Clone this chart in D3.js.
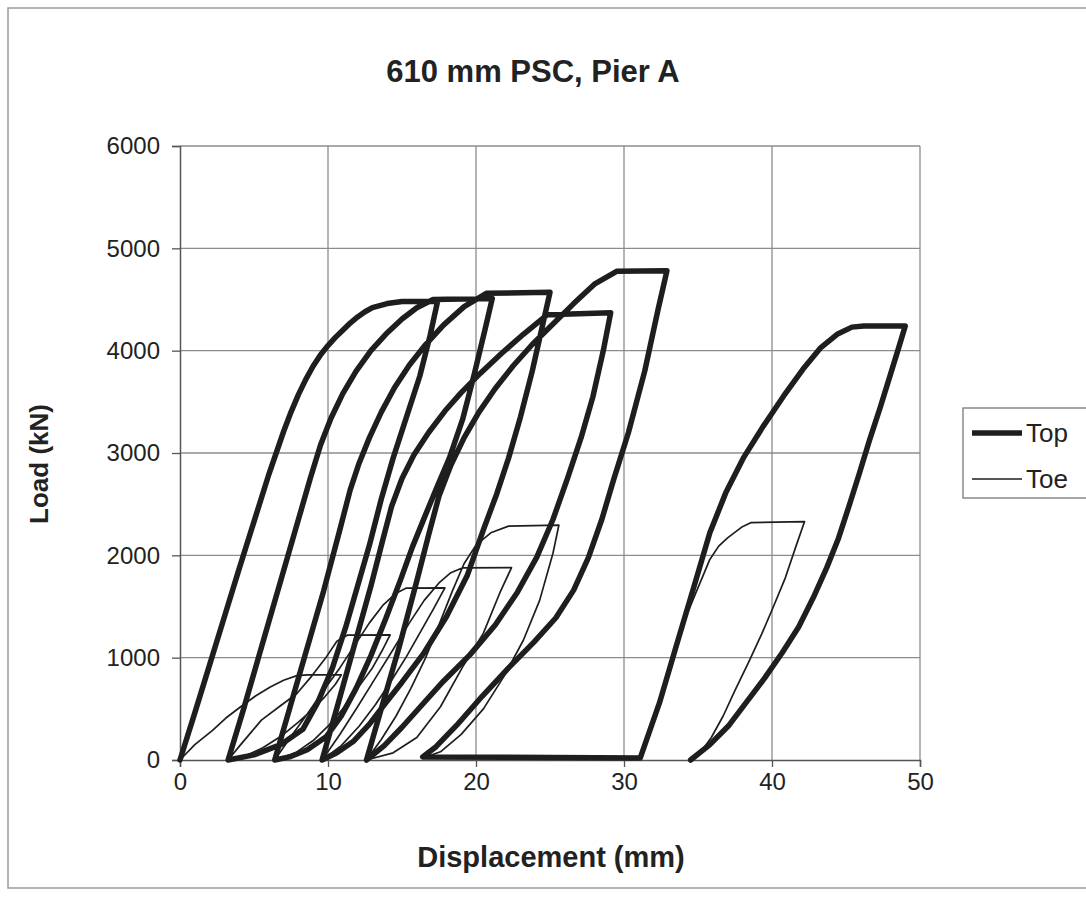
<!DOCTYPE html>
<html>
<head>
<meta charset="utf-8">
<script src="https://cdn.jsdelivr.net/npm/d3@7"></script>
<style>
  html, body { margin: 0; padding: 0; background: #fff; }
  svg { display: block; font-family: "Liberation Sans", Arial, sans-serif; }
</style>
</head>
<body>
<div id="chart"></div>
<script>
// values, [displacement mm, load kN]
// pile top: six load / hold / unload cycles
const top1 = [[0,0],[1,460],[2,930],[3,1400],[4,1870],[5,2330],[6,2790],[7,3210],[7.5,3400],[8,3570],[8.5,3720],[9,3850],[9.5,3960],[10,4050],[10.5,4130],[11,4200],[11.5,4270],[12,4330],[12.5,4380],[13,4420],[14,4460],[15,4480],[17.4,4480],
  [16.9,4150],[16.2,3750],[15.3,3350],[14.4,2950],[13.6,2550],[12.8,2100],[12,1700],[11.2,1300],[10.3,900],[9.3,560],[8.3,300],[6.8,150],[5,50],[3.25,0]]
const top2 = [[3.25,0],[4.3,500],[5.4,1050],[6.5,1600],[7.6,2150],[8.8,2750],[9.5,3080],[10.2,3340],[11,3580],[11.9,3800],[12.9,4000],[13.9,4160],[15,4310],[16,4420],[17.1,4500],[21.1,4510],
  [20.6,4200],[19.9,3780],[19.1,3330],[18.2,2950],[17.4,2680],[16.6,2400],[15.7,2080],[14.9,1760],[13.9,1380],[12.9,1020],[11.9,700],[10.9,430],[9.9,230],[8.6,100],[7.4,30],[6.4,0]]
const top3 = [[6.4,0],[7.5,550],[8.6,1100],[9.7,1650],[10.8,2250],[11.5,2640],[12.1,2900],[12.8,3150],[13.6,3400],[14.5,3640],[15.5,3860],[16.6,4060],[17.8,4250],[19.2,4430],[20.7,4560],[25,4570],
  [24.5,4250],[23.8,3800],[23,3350],[22.2,2950],[21.4,2600],[20.5,2250],[19.4,1800],[18,1400],[16.5,1050],[15,760],[13.8,540],[12.8,350],[11.7,180],[10.6,70],[9.6,0]]
const top4 = [[9.6,0],[10.7,560],[11.8,1130],[12.9,1700],[13.7,2150],[14.3,2480],[15,2750],[15.8,2980],[16.8,3200],[17.9,3410],[19,3590],[20.3,3780],[21.7,3970],[23.2,4160],[24.8,4350],[29.1,4370],
  [28.6,4000],[27.9,3550],[27.1,3150],[26.2,2760],[25.2,2350],[24.1,1980],[22.8,1640],[21.3,1320],[19.6,1030],[17.8,770],[16.3,530],[15,320],[13.8,140],[12.6,0]]
const top5 = [[12.6,0],[13.6,500],[14.8,1100],[16,1750],[16.8,2200],[17.5,2580],[18.3,2880],[19.2,3150],[20.2,3400],[21.3,3630],[22.5,3850],[23.8,4060],[25.2,4260],[26.6,4460],[28,4650],[29.5,4775],[32.9,4780],
  [32.3,4400],[31.4,3800],[30.3,3200],[29.3,2740],[28.5,2350],[27.6,1980],[26.6,1660],[25.4,1390],[23.9,1150],[22.2,900],[20.4,620],[18.7,340],[17.3,130],[16.4,30],[31.1,20]]
const top6 = [[31.1,20],[32.4,560],[33.5,1100],[34.7,1680],[35.8,2220],[36.9,2620],[38.1,2960],[39.4,3260],[40.8,3560],[42.1,3820],[43.3,4030],[44.4,4160],[45.4,4230],[46.2,4240],[49,4240],
  [48.5,4000],[47.9,3720],[47.3,3440],[46.6,3130],[45.9,2800],[45.2,2480],[44.5,2170],[43.7,1880],[42.8,1590],[41.8,1300],[40.7,1050],[39.5,800],[38.3,570],[37.1,340],[35.8,150],[34.5,0]]

// pile toe
const toe1 = [[0,0],[1,150],[2.2,290],[3.1,410],[4.1,520],[5.1,625],[6.1,714],[7,780],[7.9,825],[8.6,832],[10.9,832],
  [10.5,740],[9.8,620],[9,500],[8,370],[6.9,240],[5.6,120],[4.4,40],[3.25,0]]
const toe2 = [[3.25,0],[4.1,150],[4.8,270],[5.5,390],[6.7,520],[7.9,650],[8.9,820],[9.9,1010],[10.6,1160],[11.3,1220],[14.2,1222],
  [13.7,1080],[13,900],[12,700],[11,500],[10,330],[9,190],[7.8,70],[6.4,0]]
const toe3 = [[6.4,0],[7.5,230],[8.6,450],[9.7,680],[10.8,900],[11.8,1120],[12.8,1340],[13.7,1510],[14.6,1630],[15.3,1680],[17.9,1682],
  [17.1,1470],[16.2,1240],[15.3,1010],[14.3,780],[13.2,540],[12.1,330],[10.9,140],[9.6,0]]
const toe4 = [[9.6,0],[10.8,250],[12,520],[13.2,800],[14.4,1080],[15.5,1340],[16.5,1560],[17.5,1730],[18.3,1830],[19.1,1878],[22.4,1880],
  [21.6,1630],[20.5,1240],[19.1,910],[17.6,520],[16,220],[14.4,70],[12.6,0]]
const toe5 = [[12.6,0],[13.6,200],[14.6,430],[15.6,700],[16.6,1000],[17.5,1320],[18.4,1650],[19.2,1920],[20,2100],[21,2220],[22.2,2285],[25.6,2295],
  [25.2,2020],[24.3,1560],[23.2,1170],[21.9,820],[20.5,500],[19,250],[17.6,80],[16.4,20],[31.1,20]]
const toe6 = [[31.1,20],[32.4,560],[33.2,1000],[33.9,1300],[34.7,1580],[35.8,1960],[36.4,2090],[37,2170],[38,2280],[38.6,2320],[42.2,2330],
  [41.6,2080],[40.9,1780],[40.1,1500],[39.3,1230],[38.4,950],[37.5,680],[36.7,430],[35.9,220],[35.2,80],[34.5,0]]

const xTicks = [0, 10, 20, 30, 40, 50]
const yTicks = [0, 1000, 2000, 3000, 4000, 5000, 6000]
const seriesNames = ["Top", "Toe"]

class LoadChart {
  constructor(_parentElement) {
    this.parentElement = _parentElement
    this.initVis()
  }

  initVis() {
    const vis = this

    vis.WIDTH = 1086
    vis.HEIGHT = 899
    vis.PLOT = { LEFT: 180, RIGHT: 920, TOP: 146, BOTTOM: 760 }

    vis.svg = d3.select(vis.parentElement)
      .append("svg")
      .attr("width", vis.WIDTH)
      .attr("height", vis.HEIGHT)

    // outer chart frame
    vis.svg.append("rect")
      .attr("x", 8).attr("y", 8)
      .attr("width", 1100).attr("height", 880)
      .attr("fill", "none")
      .attr("stroke", "#9a9a9a")
      .attr("stroke-width", 1.5)

    vis.x = d3.scaleLinear().domain([0, 50]).range([vis.PLOT.LEFT, vis.PLOT.RIGHT])
    vis.y = d3.scaleLinear().domain([0, 6000]).range([vis.PLOT.BOTTOM, vis.PLOT.TOP])

    // gridlines
    vis.svg.append("g").attr("class", "grid")
      .selectAll("line")
      .data(yTicks.slice(1))
      .join("line")
      .attr("x1", vis.PLOT.LEFT).attr("x2", vis.PLOT.RIGHT)
      .attr("y1", d => vis.y(d)).attr("y2", d => vis.y(d))
      .attr("stroke", "#8c8c8c").attr("stroke-width", 1.3)

    vis.svg.append("g").attr("class", "grid")
      .selectAll("line")
      .data(xTicks.slice(1))
      .join("line")
      .attr("x1", d => vis.x(d)).attr("x2", d => vis.x(d))
      .attr("y1", vis.PLOT.TOP).attr("y2", vis.PLOT.BOTTOM)
      .attr("stroke", "#8c8c8c").attr("stroke-width", 1.3)

    // axes
    vis.xAxisCall = d3.axisBottom(vis.x).tickValues(xTicks).tickFormat(d3.format("d")).tickSize(7).tickPadding(6)
    vis.yAxisCall = d3.axisLeft(vis.y).tickValues(yTicks).tickFormat(d3.format("d")).tickSize(8).tickPadding(12)

    vis.xAxis = vis.svg.append("g")
      .attr("class", "x axis")
      .attr("transform", `translate(0, ${vis.PLOT.BOTTOM})`)
      .call(vis.xAxisCall)
    vis.yAxis = vis.svg.append("g")
      .attr("class", "y axis")
      .attr("transform", `translate(${vis.PLOT.LEFT}, 0)`)
      .call(vis.yAxisCall)

    vis.svg.selectAll(".axis path").attr("stroke", "#555").attr("stroke-width", 1.5)
    vis.svg.selectAll(".axis line").attr("stroke", "#555").attr("stroke-width", 1.3)
    vis.svg.selectAll(".axis text")
      .attr("font-size", "24px")
      .attr("fill", "#222")
      .attr("font-family", "Liberation Sans, Arial, sans-serif")

    // titles
    vis.svg.append("text")
      .attr("class", "title")
      .attr("x", 533).attr("y", 82)
      .attr("text-anchor", "middle")
      .attr("font-size", "31px").attr("font-weight", "bold")
      .attr("fill", "#222")
      .text("610 mm PSC, Pier A")

    vis.svg.append("text")
      .attr("class", "x-axis label")
      .attr("x", 551).attr("y", 867)
      .attr("text-anchor", "middle")
      .attr("font-size", "29px").attr("font-weight", "bold")
      .attr("fill", "#222")
      .text("Displacement (mm)")

    vis.svg.append("text")
      .attr("class", "y-axis label")
      .attr("transform", "translate(48, 464) rotate(-90)")
      .attr("text-anchor", "middle")
      .attr("font-size", "26px").attr("font-weight", "bold")
      .attr("fill", "#222")
      .text("Load (kN)")

    vis.line = d3.line()
      .x(d => vis.x(d[0]))
      .y(d => vis.y(d[1]))

    vis.updateVis()
  }

  updateVis() {
    const vis = this

    const series = [
      { name: "Toe", points: [].concat(toe1, toe2, toe3, toe4, toe5, toe6), width: 1.7 },
      { name: "Top", points: [].concat(top1, top2, top3, top4, top5, top6), width: 5.5 }
    ]

    vis.svg.append("g").attr("class", "series")
      .selectAll("path")
      .data(series)
      .join("path")
      .attr("d", d => vis.line(d.points))
      .attr("fill", "none")
      .attr("stroke", "#1e1e1e")
      .attr("stroke-width", d => d.width)
      .attr("stroke-linejoin", "round")
      .attr("stroke-linecap", "round")

    // legend
    const legend = vis.svg.append("g").attr("class", "legend")
    legend.append("rect")
      .attr("x", 963).attr("y", 408)
      .attr("width", 140).attr("height", 90)
      .attr("fill", "#fff")
      .attr("stroke", "#777").attr("stroke-width", 1.3)

    const items = legend.selectAll("g.item")
      .data(seriesNames)
      .join("g")
      .attr("class", "item")
      .attr("transform", (d, i) => `translate(972, ${433 + i * 46})`)

    items.append("line")
      .attr("x1", 0).attr("x2", 50)
      .attr("stroke", "#1e1e1e")
      .attr("stroke-width", d => d === "Top" ? 5.5 : 1.7)
    items.append("text")
      .attr("x", 54).attr("y", 9)
      .attr("font-size", "26px")
      .attr("fill", "#222")
      .text(d => d)
  }
}

new LoadChart("#chart")
</script>
</body>
</html>
